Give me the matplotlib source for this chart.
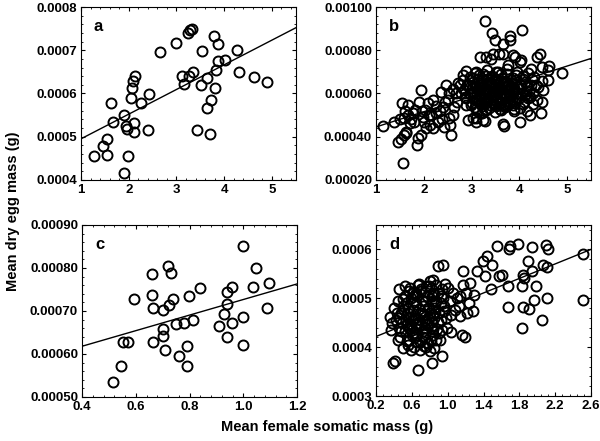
import numpy as np
import matplotlib.pyplot as plt
from matplotlib.ticker import AutoMinorLocator, FormatStrFormatter

plt.rcParams['font.family'] = ['Liberation Sans', 'DejaVu Sans']
plt.rcParams['font.weight'] = 'bold'

# panel a
ax_a = [1.27, 1.46, 1.55, 1.55, 1.63, 1.66, 1.90, 1.91, 1.94, 1.96, 1.99, 2.05, 2.07, 2.09, 2.13, 2.12,
        2.12, 2.26, 2.42, 2.41, 2.65, 3.00, 3.11, 3.15, 3.24, 3.28, 3.32, 3.27, 3.34, 3.44, 3.54, 3.51,
        3.63, 3.65, 3.72, 3.70, 3.79, 3.81, 3.83, 3.88, 3.88, 4.02, 4.26, 4.31, 4.63, 4.89]
ay_a = [0.000455, 0.000478, 0.000458, 0.000494, 0.000578, 0.000534, 0.000416, 0.000550, 0.000525,
        0.000517, 0.000456, 0.000590, 0.000612, 0.000628, 0.000640, 0.000532, 0.000511, 0.000578,
        0.000598, 0.000516, 0.000695, 0.000717, 0.000640, 0.000622, 0.000740, 0.000747, 0.000749,
        0.000640, 0.000650, 0.000516, 0.000698, 0.000619, 0.000636, 0.000567, 0.000585, 0.000506,
        0.000733, 0.000613, 0.000655, 0.000715, 0.000675, 0.000677, 0.000700, 0.000650, 0.000638,
        0.000627]
fit_a = (5.71e-5, 0.000438)  # slope, intercept

# panel b
bx = [1.14, 1.38, 1.45, 1.52, 1.56, 1.54, 1.59, 1.63, 1.70, 1.77, 1.82, 1.87, 1.94, 1.94, 1.89, 1.98,
      2.05, 2.08, 2.15, 2.20, 2.29, 2.36, 2.40, 2.47, 2.50, 2.55, 2.57, 2.61, 2.68, 2.64, 2.82, 2.75,
      2.88, 2.92, 3.02, 3.09, 2.85,
      1.50, 1.62, 1.67, 1.86, 2.02, 2.26, 2.53, 1.60, 1.72, 1.80, 1.95, 2.00, 2.10, 2.12, 2.25, 2.33,
      2.38, 2.45, 2.52, 2.60, 2.70, 2.72, 2.78, 1.66, 1.58, 2.18, 2.42,
      3.28, 3.42, 3.49, 3.80, 3.81, 4.06, 3.65, 3.18, 3.31, 3.45, 3.66, 3.91, 4.02, 4.36, 4.43, 4.47,
      4.61, 4.89, 4.47, 4.40, 4.47, 4.29, 4.22, 4.08, 3.66, 3.66, 4.01, 3.28,
      3.21, 3.10, 3.24, 3.67, 4.22, 4.46, 4.37, 4.50, 4.60, 4.60, 4.25, 4.04, 3.87, 3.58, 3.77, 3.40,
      3.10,
      2.88, 3.07, 3.33, 3.52, 3.74, 3.96, 4.18,
      2.97, 3.16, 3.41, 3.62, 3.86, 4.07, 4.31,
      2.81, 3.02, 3.21, 3.36, 3.51, 3.69, 3.92, 4.11, 4.26,
      2.91, 3.06, 3.24, 3.42, 3.56, 3.66, 3.82, 4.01, 4.16, 4.34,
      2.84, 3.01, 3.14, 3.29, 3.46, 3.59, 3.76, 3.89, 4.04, 4.21,
      2.96, 3.11, 3.19, 3.34, 3.49, 3.64, 3.79, 3.94, 4.12, 4.28,
      2.89, 3.04, 3.26, 3.39, 3.54, 3.71, 3.84, 3.99, 4.19,
      3.00, 3.16, 3.31, 3.44, 3.61, 3.74, 3.91, 4.09,
      3.06, 3.22, 3.37, 3.51, 3.69, 3.86, 4.02,
      3.12, 3.31, 3.48, 3.62, 3.88, 4.15,
      3.20, 3.45, 3.58, 3.70, 3.35, 3.85, 3.10, 3.95, 3.55, 3.30, 3.72, 3.48, 3.15, 3.62, 4.05, 3.80,
      3.25, 3.40, 3.00, 2.95,
      3.03, 3.13, 3.23, 3.33, 3.43, 3.53, 3.63, 3.73, 3.83, 3.93,
      3.08, 3.18, 3.28, 3.38, 3.48, 3.58, 3.68, 3.78, 3.88, 3.98,
      3.05, 3.17, 3.27, 3.37, 3.47, 3.57, 3.67, 3.77, 3.87,
      3.12, 3.22, 3.32, 3.42, 3.52, 3.62, 3.72, 3.82,
      2.98, 3.09, 3.19, 3.29, 3.39, 3.49, 3.59, 3.69, 3.79, 3.89, 4.08, 4.14, 4.24]
by = [0.000450, 0.000470, 0.000377, 0.000388, 0.000277, 0.000555, 0.000485, 0.000424, 0.000462,
      0.000508, 0.000524, 0.000393, 0.000408, 0.000616, 0.000562, 0.000493, 0.000439, 0.000555,
      0.000501, 0.000570, 0.000470, 0.000608, 0.000539, 0.000639, 0.000570, 0.000454, 0.000408,
      0.000501, 0.000600, 0.000539, 0.000686, 0.000639, 0.000547, 0.000477, 0.000485, 0.000470,
      0.000585,
      0.000480, 0.000415, 0.000500, 0.000362, 0.000523, 0.000508, 0.000485, 0.000520, 0.000480,
      0.000470, 0.000520, 0.000470, 0.000500, 0.000455, 0.000540, 0.000520, 0.000480, 0.000560,
      0.000600, 0.000620, 0.000560, 0.000650, 0.000600, 0.000545, 0.000410, 0.000440, 0.000445,
      0.000935, 0.000880, 0.000846, 0.000864, 0.000846, 0.000895, 0.000830, 0.000769, 0.000769,
      0.000784, 0.000784, 0.000769, 0.000746, 0.000769, 0.000784, 0.000722, 0.000729, 0.000693,
      0.000659, 0.000628, 0.000559, 0.000552, 0.000582, 0.000552, 0.000545, 0.000460, 0.000468,
      0.000475,
      0.000508, 0.000485, 0.000477, 0.000451, 0.000500, 0.000508, 0.000569, 0.000615, 0.000662,
      0.000708, 0.000715, 0.000754, 0.000777, 0.000785, 0.000731, 0.000760, 0.000700,
      0.000702, 0.000695, 0.000708, 0.000698, 0.000712, 0.000700, 0.000694,
      0.000678, 0.000684, 0.000676, 0.000688, 0.000674, 0.000682, 0.000676,
      0.000662, 0.000655, 0.000664, 0.000652, 0.000667, 0.000658, 0.000661, 0.000654, 0.000665,
      0.000638, 0.000644, 0.000635, 0.000646, 0.000637, 0.000642, 0.000634, 0.000645, 0.000636,
      0.000641,
      0.000618, 0.000624, 0.000615, 0.000622, 0.000626, 0.000614, 0.000621, 0.000617, 0.000625,
      0.000612,
      0.000598, 0.000604, 0.000594, 0.000601, 0.000596, 0.000606, 0.000597, 0.000603, 0.000594,
      0.000601,
      0.000578, 0.000584, 0.000575, 0.000582, 0.000577, 0.000585, 0.000574, 0.000581, 0.000577,
      0.000558, 0.000564, 0.000555, 0.000562, 0.000557, 0.000565, 0.000554, 0.000561,
      0.000538, 0.000544, 0.000535, 0.000542, 0.000537, 0.000545, 0.000534,
      0.000518, 0.000522, 0.000515, 0.000524, 0.000517, 0.000521,
      0.000650, 0.000610, 0.000650, 0.000600, 0.000580, 0.000650, 0.000570, 0.000580, 0.000700,
      0.000680, 0.000630, 0.000570, 0.000630, 0.000560, 0.000600, 0.000560, 0.000600, 0.000650,
      0.000600, 0.000640,
      0.000672, 0.000665, 0.000690, 0.000669, 0.000681, 0.000660, 0.000673, 0.000690, 0.000662,
      0.000684,
      0.000630, 0.000648, 0.000627, 0.000655, 0.000632, 0.000629, 0.000651, 0.000646, 0.000626,
      0.000632,
      0.000608, 0.000592, 0.000610, 0.000612, 0.000589, 0.000615, 0.000590, 0.000611, 0.000607,
      0.000570, 0.000585, 0.000568, 0.000592, 0.000571, 0.000578, 0.000548, 0.000590,
      0.000548, 0.000530, 0.000552, 0.000528, 0.000548, 0.000545, 0.000528, 0.000553, 0.000552,
      0.000528, 0.000668, 0.000610, 0.000640]
fit_b = (7.04e-5, 0.000375)

# panel c
cx = [0.514, 0.545, 0.552, 0.571, 0.592, 0.661, 0.661, 0.662, 0.662, 0.70, 0.70, 0.70, 0.708, 0.72,
      0.73, 0.722, 0.74, 0.749, 0.761, 0.779, 0.792, 0.792, 0.798, 0.811, 0.839, 0.908, 0.929, 0.938,
      0.938, 0.941, 0.959, 0.959, 1.0, 1.0, 1.0, 1.037, 1.047, 1.097, 1.087]
cy = [0.000534, 0.000571, 0.000627, 0.000627, 0.000728, 0.000785, 0.000737, 0.000706, 0.000628,
      0.000659, 0.000641, 0.000703, 0.000608, 0.000804, 0.000789, 0.000714, 0.000728, 0.000669,
      0.000595, 0.000672, 0.000618, 0.000571, 0.000735, 0.000679, 0.000753, 0.000665, 0.000692,
      0.000639, 0.000745, 0.000716, 0.000755, 0.000672, 0.000851, 0.000685, 0.000620, 0.000755,
      0.000799, 0.000765, 0.000706]
fit_c = (1.81e-4, 0.0005455)

# panel d
dx = [2.51, 2.51, 2.10, 2.12, 2.11, 2.06, 2.11, 2.05, 1.94, 1.90, 1.94, 1.98, 1.96, 1.91, 1.84, 1.83,
      1.84, 1.85, 1.83, 1.78, 1.70, 1.68, 1.67, 1.67, 1.60, 1.55, 1.57, 1.48, 1.49, 1.44, 1.39, 1.42,
      1.33, 1.29, 1.25, 1.28, 1.17, 1.17, 1.14, 1.14, 1.16, 1.19,
      1.04, 1.20, 1.24, 1.06, 1.04, 0.98, 0.96, 0.93, 0.91,
      1.10, 1.12, 1.08, 1.22, 1.02, 1.00,
      0.95, 0.89, 0.94, 0.82, 0.67, 0.41, 0.39, 0.35, 0.37, 0.46, 0.52, 0.50, 0.80, 0.83, 0.70, 0.63,
      0.76, 0.85, 0.59, 0.50, 0.44,
      0.42, 0.48, 0.55, 0.61, 0.67, 0.73, 0.79, 0.86, 0.92,
      0.45, 0.52, 0.58, 0.64, 0.70, 0.76, 0.82, 0.88,
      0.47, 0.54, 0.60, 0.66, 0.72, 0.78, 0.84,
      0.53, 0.59, 0.65, 0.71, 0.77, 0.83, 0.89, 0.95,
      0.57, 0.68, 0.74, 0.81, 0.87, 0.93,
      0.62, 0.69, 0.73, 0.80, 0.56,
      0.40, 0.44, 0.49, 0.63, 0.75, 0.85, 0.90, 0.96,
      0.51, 0.57, 0.69, 0.81, 0.87, 0.66, 0.60, 0.72, 0.78, 0.84, 0.74, 0.65, 0.55, 0.46, 0.38, 0.92,
      0.99, 0.97,
      0.50, 0.56, 0.62, 0.68, 0.74, 0.80, 0.86, 0.92,
      0.53, 0.59, 0.65, 0.71, 0.77, 0.83, 0.89,
      0.48, 0.54, 0.60, 0.66, 0.72, 0.78, 0.84, 0.90,
      0.57, 0.63, 0.69, 0.75, 0.81, 0.87,
      0.52, 0.58, 0.64, 0.70, 0.76, 0.82,
      0.43, 0.61, 0.67, 0.79, 0.85]
dy = [0.000591, 0.000496, 0.000609, 0.000600, 0.000564, 0.000569, 0.000501, 0.000456, 0.000605,
      0.000576, 0.000555, 0.000525, 0.000497, 0.000479, 0.000483, 0.000439, 0.000548, 0.000542,
      0.000525, 0.000611, 0.000607, 0.000601, 0.000525, 0.000483, 0.000547, 0.000607, 0.000545,
      0.000518, 0.000569, 0.000586, 0.000576, 0.000545, 0.000555, 0.000507, 0.000531, 0.000473,
      0.000528, 0.000555, 0.000505, 0.000463, 0.000425, 0.000420,
      0.000430, 0.000511, 0.000490, 0.000511, 0.000466, 0.000459, 0.000473, 0.000436, 0.000415,
      0.000500, 0.000485, 0.000475, 0.000470, 0.000495, 0.000520,
      0.000569, 0.000566, 0.000381, 0.000367, 0.000353, 0.000371, 0.000367, 0.000462, 0.000436,
      0.000518, 0.000526, 0.000498, 0.000535, 0.000538, 0.000518, 0.000507, 0.000401, 0.000398,
      0.000394, 0.000398, 0.000415,
      0.000455, 0.000470, 0.000462, 0.000475, 0.000458, 0.000468, 0.000480, 0.000472, 0.000490,
      0.000440, 0.000432, 0.000448, 0.000437, 0.000445, 0.000430, 0.000452, 0.000438,
      0.000420, 0.000412, 0.000425, 0.000410, 0.000420, 0.000408, 0.000425,
      0.000490, 0.000500, 0.000488, 0.000497, 0.000505, 0.000495, 0.000510, 0.000500,
      0.000515, 0.000530, 0.000512, 0.000520, 0.000528, 0.000518,
      0.000400, 0.000395, 0.000402, 0.000392, 0.000405,
      0.000480, 0.000495, 0.000450, 0.000460, 0.000455, 0.000460, 0.000470, 0.000485,
      0.000475, 0.000440, 0.000470, 0.000440, 0.000495, 0.000505, 0.000455, 0.000485, 0.000460,
      0.000510, 0.000440, 0.000425, 0.000480, 0.000460, 0.000450, 0.000455, 0.000440, 0.000530,
      0.000485, 0.000470, 0.000492, 0.000478, 0.000495, 0.000470, 0.000488, 0.000505,
      0.000455, 0.000462, 0.000448, 0.000470, 0.000445, 0.000465, 0.000452,
      0.000432, 0.000445, 0.000435, 0.000450, 0.000432, 0.000448, 0.000438, 0.000428,
      0.000415, 0.000420, 0.000410, 0.000418, 0.000412, 0.000415,
      0.000505, 0.000520, 0.000510, 0.000515, 0.000525, 0.000505,
      0.000470, 0.000510, 0.000528, 0.000525, 0.000480]
fit_d = (7.42e-5, 0.000407)

panels = [
    # x, y, fit, letter, xlim, xticks, xfmt, ylim, yticks, yfmt, position
    (ax_a, ay_a, fit_a, 'a', (1, 5.5), [1, 2, 3, 4, 5], '%d', (0.0004, 0.0008),
     [0.0004, 0.0005, 0.0006, 0.0007, 0.0008], '%.4f', [0.135, 0.592, 0.358, 0.392]),
    (bx, by, fit_b, 'b', (1, 5.5), [1, 2, 3, 4, 5], '%d', (0.0002, 0.001),
     [0.0002, 0.0004, 0.0006, 0.0008, 0.001], '%.5f', [0.627, 0.592, 0.358, 0.392]),
    (cx, cy, fit_c, 'c', (0.4, 1.2), [0.4, 0.6, 0.8, 1.0, 1.2], '%.1f', (0.0005, 0.0009),
     [0.0005, 0.0006, 0.0007, 0.0008, 0.0009], '%.5f', [0.137, 0.100, 0.358, 0.390]),
    (dx, dy, fit_d, 'd', (0.2, 2.6), [0.2, 0.6, 1.0, 1.4, 1.8, 2.2, 2.6], '%.1f', (0.0003, 0.00065),
     [0.0003, 0.0004, 0.0005, 0.0006], '%.4f', [0.627, 0.102, 0.358, 0.388]),
]

fig = plt.figure(figsize=(6, 4.41), dpi=100)

for x, y, fit, letter, xlim, xticks, xfmt, ylim, yticks, yfmt, pos in panels:
    ax = fig.add_axes(pos)
    ax.plot(x, y, linestyle='none', marker='o', markersize=7.2, markerfacecolor='none',
            markeredgecolor='black', markeredgewidth=1.4)
    xl = np.array(xlim)
    ax.plot(xl, fit[0] * xl + fit[1], color='black', linewidth=1.0)
    ax.set_xlim(xlim)
    ax.set_ylim(ylim)
    ax.set_xticks(xticks)
    ax.set_yticks(yticks)
    ax.xaxis.set_major_formatter(FormatStrFormatter(xfmt))
    ax.yaxis.set_major_formatter(FormatStrFormatter(yfmt))
    ax.xaxis.set_minor_locator(AutoMinorLocator(5))
    ax.yaxis.set_minor_locator(AutoMinorLocator(5))
    ax.tick_params(which='both', direction='in', top=True, right=True, labelsize=9.5, pad=3)
    ax.tick_params(which='major', length=3, width=0.8)
    ax.tick_params(which='minor', length=1.5, width=0.6)
    for lab in ax.get_xticklabels() + ax.get_yticklabels():
        lab.set_fontweight('bold')
        if letter == 'd':
            lab.set_family(['Liberation Sans Narrow', 'Liberation Sans'])
    for sp in ax.spines.values():
        sp.set_linewidth(0.8)
    ax.text(0.06, 0.93, letter, transform=ax.transAxes, fontsize=12, fontweight='bold',
            va='top', ha='left')

fig.text(0.022, 0.522, 'Mean dry egg mass (g)', rotation=90, ha='center', va='center',
         fontsize=10.5, fontweight='bold')
fig.text(0.545, 0.032, 'Mean female somatic mass (g)', ha='center', va='center',
         fontsize=10.5, fontweight='bold')

fig.savefig('out.png', dpi=100)
